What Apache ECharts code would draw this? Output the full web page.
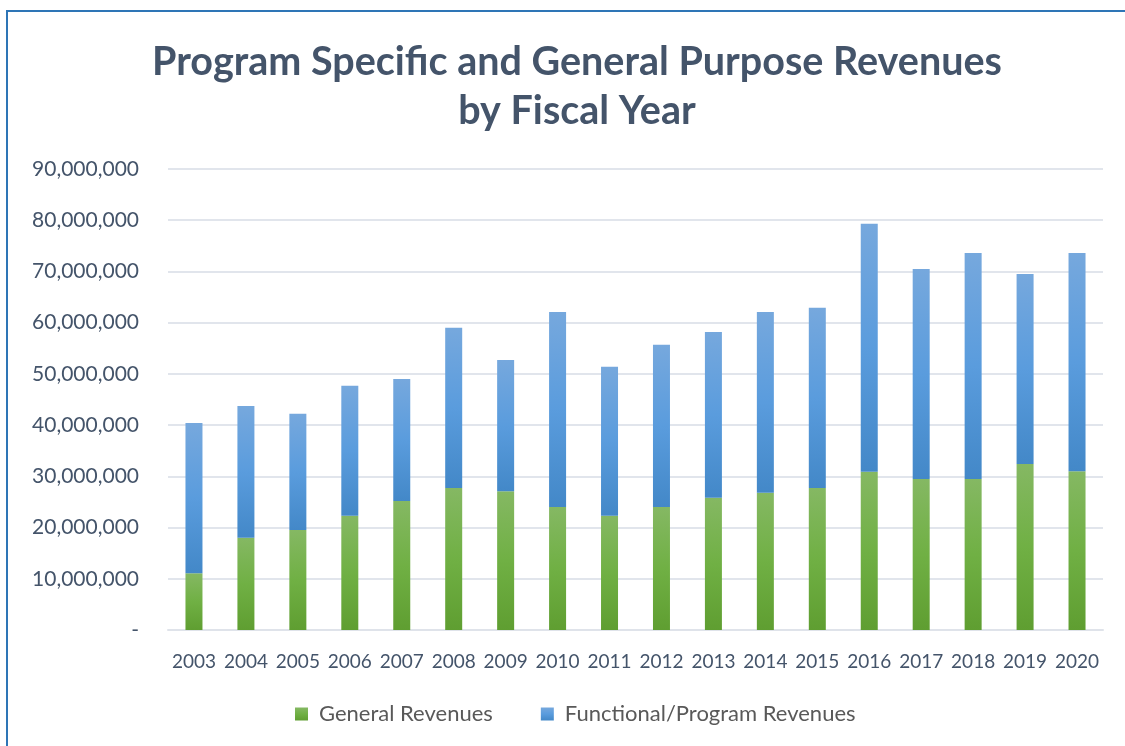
<!DOCTYPE html>
<html>
<head>
<meta charset="utf-8">
<script src="https://cdn.jsdelivr.net/npm/echarts@6/dist/echarts.min.js"></script>
<style>
  html, body { margin: 0; padding: 0; background: #fff; }
  #chart { width: 1125px; height: 746px; }
</style>
</head>
<body>
<div id="chart"></div>
<script>
var years = ['2003','2004','2005','2006','2007','2008','2009','2010','2011','2012','2013','2014','2015','2016','2017','2018','2019','2020'];
// 一般收入
var general = [11100000,18000000,19500000,22300000,25200000,27700000,27100000,24000000,22300000,24000000,25800000,26800000,27700000,30900000,29500000,29500000,32400000,31000000];
// 总额（柱顶）
var totals = [40400000,43750000,42200000,47700000,49000000,59000000,52700000,62100000,51400000,55700000,58200000,62100000,62900000,79300000,70500000,73600000,69500000,73600000];
var functional = totals.map(function(t, i){ return t - general[i]; });

var myCharts = echarts.init(document.getElementById('chart'));
var textColor = '#44546a';

var option = {
    animation: false,
    title: {
        text: 'Program Specific and General Purpose Revenues\nby Fiscal Year',
        left: 572,
        top: 33,
        textAlign: 'center',
        textStyle: {
            fontFamily: 'Lato',
            fontSize: 39.5,
            fontWeight: 'bold',
            lineHeight: 49,
            color: textColor
        }
    },
    graphic: [{
        type: 'rect',
        shape: { x: 7, y: 11, width: 1300, height: 900 },
        style: { fill: 'none', stroke: '#2e75b6', lineWidth: 2 }
    }],
    legend: {
        bottom: 16,
        left: 290,
        icon: 'rect',
        itemWidth: 13,
        itemHeight: 13,
        itemGap: 48,
        textStyle: { fontFamily: 'Lato', fontSize: 22, color: '#595959', padding: [0, 0, 0, 6] },
        data: ['General Revenues', 'Functional/Program Revenues']
    },
    grid: { left: 168, right: 22, top: 169, bottom: 116 },
    xAxis: {
        type: 'category',
        data: years,
        axisLine: { lineStyle: { color: '#dfe3ea', width: 2 } },
        axisTick: { show: false },
        axisLabel: { interval: 0, fontFamily: 'Lato', fontSize: 19, color: textColor, margin: 22 }
    },
    yAxis: {
        type: 'value',
        min: 0,
        max: 90000000,
        interval: 10000000,
        axisLine: { show: false },
        axisTick: { show: false },
        splitLine: { lineStyle: { color: '#e1e5ec', width: 2 } },
        axisLabel: {
            fontFamily: 'Lato', fontSize: 21, color: textColor, margin: 29,
            formatter: function(v){ return v === 0 ? '-' : v.toLocaleString('en-US'); }
        }
    },
    series: [
        {
            name: 'General Revenues',
            type: 'bar',
            stack: 'rev',
            barWidth: 17,
            data: general,
            itemStyle: {
                color: new echarts.graphic.LinearGradient(0, 0, 0, 1, [
                    { offset: 0, color: '#85b863' },
                    { offset: 0.5, color: '#70b044' },
                    { offset: 1, color: '#5f9e31' }
                ])
            }
        },
        {
            name: 'Functional/Program Revenues',
            type: 'bar',
            stack: 'rev',
            barWidth: 17,
            data: functional,
            itemStyle: {
                color: new echarts.graphic.LinearGradient(0, 0, 0, 1, [
                    { offset: 0, color: '#76a8dd' },
                    { offset: 0.5, color: '#5a9cdd' },
                    { offset: 1, color: '#4388c8' }
                ])
            }
        }
    ]
};
myCharts.setOption(option);
</script>
</body>
</html>
